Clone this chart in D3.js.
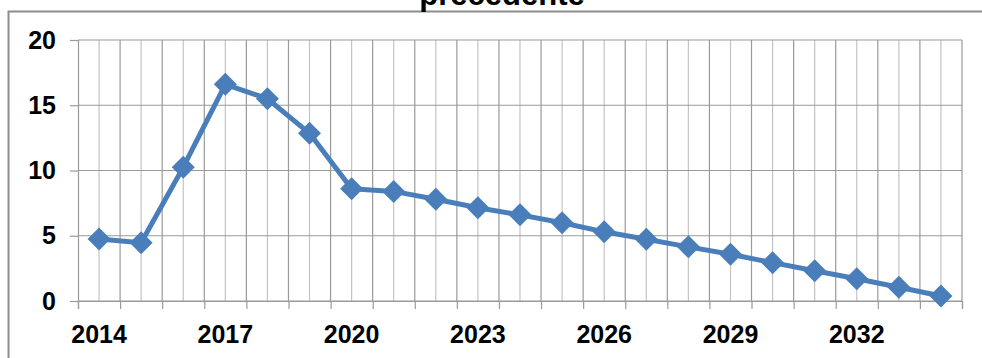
<!DOCTYPE html>
<html>
<head>
<meta charset="utf-8">
<script src="https://cdn.jsdelivr.net/npm/d3@7"></script>
<style>
  body { margin: 0; background: #fff; }
  svg { display: block; font-family: "Liberation Sans", Arial, sans-serif; }
</style>
</head>
<body>
<script>
// donnees
const years = d3.range(2014, 2035);
const values = [4.75, 4.47, 10.25, 16.6, 15.5, 12.85, 8.6, 8.4, 7.8, 7.15,
                6.6, 6.0, 5.3, 4.73, 4.15, 3.58, 2.94, 2.32, 1.7, 1.05, 0.38];
const yTicks = [0, 5, 10, 15, 20];
const xLabels = [2014, 2017, 2020, 2023, 2026, 2029, 2032];
const title = "precedente";

const W = 982, H = 358;
const plot = {left: 78, right: 962, top: 40, bottom: 301};

const svg = d3.select("body").append("svg")
  .attr("width", W).attr("height", H);

// cadre du graphique
svg.append("path")
  .attr("d", `M8.5,${H} V11.5 H${W}`)
  .attr("fill", "none").attr("stroke", "#8c8c8c").attr("stroke-width", 2);

// titre (coupe en haut)
svg.append("text")
  .attr("x", 502).attr("y", 5)
  .attr("text-anchor", "middle")
  .attr("font-size", 31).attr("font-weight", "bold")
  .text(title);

const x = d3.scaleBand().domain(years).range([plot.left, plot.right]).padding(0);
const xi = d3.scaleLinear().domain([0, years.length]).range([plot.left, plot.right]);
const y = d3.scaleLinear().domain([0, 20]).range([plot.bottom, plot.top]);

// grille verticale : mineure au centre des categories, majeure aux bords
svg.append("g").selectAll("line")
  .data(years)
  .join("line")
  .attr("x1", d => x(d) + x.bandwidth() / 2).attr("x2", d => x(d) + x.bandwidth() / 2)
  .attr("y1", plot.top).attr("y2", plot.bottom)
  .attr("stroke", "#c4c4c4").attr("stroke-width", 1.2);

svg.append("g").selectAll("line")
  .data(d3.range(1, years.length + 1))
  .join("line")
  .attr("x1", d => xi(d)).attr("x2", d => xi(d))
  .attr("y1", plot.top).attr("y2", plot.bottom)
  .attr("stroke", "#9a9a9a").attr("stroke-width", 1.2);

// grille horizontale
svg.append("g").selectAll("line")
  .data(yTicks)
  .join("line")
  .attr("x1", plot.left).attr("x2", plot.right)
  .attr("y1", d => y(d)).attr("y2", d => y(d))
  .attr("stroke", "#9a9a9a").attr("stroke-width", 1.2);

// axe Y
const axeY = svg.append("g")
  .attr("transform", `translate(${plot.left},0)`)
  .call(d3.axisLeft(y).tickValues(yTicks).tickSize(8).tickPadding(14));
axeY.selectAll("line, path").attr("stroke", "#9a9a9a").attr("stroke-width", 1.2);
axeY.selectAll("text").attr("font-size", 25).attr("font-weight", "bold")
  .attr("fill", "#000").attr("font-family", "Liberation Sans, Arial, sans-serif");

// axe X : graduations aux bords des categories
const axeX = svg.append("g")
  .attr("transform", `translate(0,${plot.bottom})`)
  .call(d3.axisBottom(xi).tickValues(d3.range(0, years.length + 1)).tickSize(8).tickFormat(""));
axeX.selectAll("line, path").attr("stroke", "#9a9a9a").attr("stroke-width", 1.2);

// libelles X tous les 3 ans
const labX = svg.append("g")
  .attr("transform", `translate(0,${plot.bottom})`)
  .call(d3.axisBottom(x).tickValues(xLabels).tickSize(0).tickPadding(24));
labX.select(".domain").remove();
labX.selectAll("text").attr("font-size", 25).attr("font-weight", "bold")
  .attr("fill", "#000").attr("font-family", "Liberation Sans, Arial, sans-serif");

// courbe
const line = d3.line()
  .x((d, i) => x(years[i]) + x.bandwidth() / 2)
  .y(d => y(d));

svg.append("path")
  .datum(values)
  .attr("d", line)
  .attr("fill", "none")
  .attr("stroke", "#4a7ebb")
  .attr("stroke-width", 5)
  .attr("stroke-linejoin", "round");

// marqueurs en losange
const r = 11.5;
svg.append("g").selectAll("path")
  .data(values)
  .join("path")
  .attr("transform", (d, i) => `translate(${x(years[i]) + x.bandwidth() / 2},${y(d)})`)
  .attr("d", `M0,${-r} L${r},0 L0,${r} L${-r},0 Z`)
  .attr("fill", "#4a7ebb");
</script>
</body>
</html>
